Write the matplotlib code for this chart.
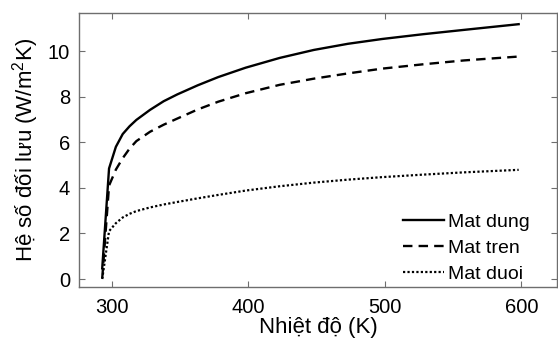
import matplotlib
matplotlib.use('Agg')
import matplotlib.pyplot as plt

# Temperatures (K) and convection coefficients
nhiet_do = [293, 298, 303, 308, 313, 318, 328, 338, 348, 363, 378, 398, 423, 448, 473, 498, 528, 558, 598]
mat_dung = [0.47, 4.85, 5.8, 6.36, 6.7, 6.98, 7.42, 7.8, 8.1, 8.5, 8.86, 9.27, 9.7, 10.05, 10.32, 10.53, 10.74, 10.93, 11.18]
mat_tren = [0.03, 4.1, 4.8, 5.3, 5.72, 6.05, 6.46, 6.77, 7.04, 7.44, 7.78, 8.15, 8.52, 8.79, 9.02, 9.23, 9.42, 9.59, 9.76]
mat_duoi = [0.0, 2.1, 2.45, 2.7, 2.86, 2.98, 3.14, 3.27, 3.38, 3.54, 3.69, 3.88, 4.07, 4.23, 4.36, 4.47, 4.58, 4.68, 4.79]

x_ticks = [300, 400, 500, 600]
y_ticks = [0, 2, 4, 6, 8, 10]

plt.rcParams['font.family'] = ['Liberation Sans', 'DejaVu Sans']
plt.rcParams['mathtext.fontset'] = 'custom'
plt.rcParams['mathtext.rm'] = 'Liberation Sans'

fig = plt.figure(figsize=(5.58, 3.46), dpi=100)
ax = fig.add_axes([0.1416, 0.1705, 0.8564, 0.7919])

ax.plot(nhiet_do, mat_dung, '-', color='black', linewidth=1.7, label='Mat dung')
ax.plot(nhiet_do, mat_tren, '--', color='black', linewidth=1.7, dashes=(4.0, 2.6), label='Mat tren')
ax.plot(nhiet_do, mat_duoi, ':', color='black', linewidth=1.6, dashes=(1.0, 1.0), label='Mat duoi')

ax.set_xlim(276, 626)
ax.set_ylim(-0.35, 11.67)
ax.set_xticks(x_ticks)
ax.set_yticks(y_ticks)

for side in ['left', 'right', 'top', 'bottom']:
    ax.spines[side].set_color('#6e6e6e')
    ax.spines[side].set_linewidth(1.0)
ax.tick_params(direction='in', length=4, width=0.8, color='#6e6e6e',
               top=True, right=True, labelsize=14.5)
ax.tick_params(axis='x', pad=8)
ax.tick_params(axis='y', pad=6.5)

ax.set_xlabel('Nhiệt độ (K)', fontsize=16, labelpad=0)
ax.set_ylabel(r'Hệ số đối lưu (W/m$^\mathregular{2}$K)', fontsize=16, labelpad=5)

ax.legend(loc='lower right', frameon=False, fontsize=14, handlelength=2.15,
          handletextpad=0.2, labelspacing=0.44, borderpad=0.2, borderaxespad=0,
          bbox_to_anchor=(0.952, 0.0))

plt.savefig('out.png', dpi=100)
